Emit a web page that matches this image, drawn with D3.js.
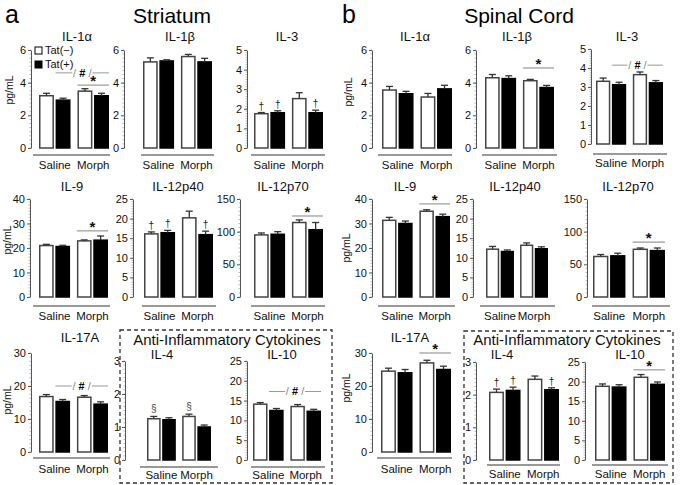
<!DOCTYPE html>
<html><head><meta charset="utf-8">
<script src="https://cdn.jsdelivr.net/npm/d3@7"></script>
<style>body{margin:0;background:#fff} svg{display:block;font-family:"Liberation Sans",Arial,sans-serif}</style>
</head><body><svg id="c" width="685" height="485"></svg>
<script>
// ---------------- DATA ----------------
const categories = ["Saline", "Morph"];
const series = ["Tat(−)", "Tat(+)"];
// order of values: Saline/Tat(−), Saline/Tat(+), Morph/Tat(−), Morph/Tat(+)
const strIL1a = [3.2, 2.93, 3.48, 3.2],      strIL1aErr = [0.15, 0.12, 0.15, 0.15];
const strIL1b = [5.27, 5.33, 5.6, 5.27],     strIL1bErr = [0.25, 0.07, 0.13, 0.22];
const strIL3 = [1.75, 1.8, 2.52, 1.8],       strIL3Err = [0.06, 0.1, 0.3, 0.13];
const strIL9 = [21.0, 20.6, 22.9, 23.2],     strIL9Err = [0.5, 0.5, 0.4, 1.7];
const strIL12p40 = [16.1, 16.4, 20.2, 15.9], strIL12p40Err = [0.5, 0.6, 1.7, 0.9];
const strIL12p70 = [95, 96, 114, 103],       strIL12p70Err = [3, 4, 4, 11];
const strIL17A = [16.8, 15.3, 16.6, 14.5],   strIL17AErr = [0.6, 0.6, 0.5, 0.7];
const strIL4 = [1.25, 1.22, 1.32, 1.0],      strIL4Err = [0.07, 0.06, 0.07, 0.06];
const strIL10 = [14.1, 12.5, 13.5, 12.3],    strIL10Err = [0.4, 0.5, 0.5, 0.5];

const spIL1a = [3.55, 3.32, 3.12, 3.62],     spIL1aErr = [0.22, 0.15, 0.22, 0.22];
const spIL1b = [4.3, 4.25, 4.12, 3.7],       spIL1bErr = [0.2, 0.17, 0.08, 0.13];
const spIL3 = [3.3, 3.12, 3.65, 3.22],       spIL3Err = [0.17, 0.13, 0.14, 0.12];
const spIL9 = [31.3, 30.0, 35.0, 32.8],      spIL9Err = [1.2, 1.0, 0.6, 1.0];
const spIL12p40 = [12.2, 11.6, 13.2, 12.3],  spIL12p40Err = [0.7, 0.4, 0.6, 0.5];
const spIL12p70 = [62, 63, 73, 71],          spIL12p70Err = [3, 4, 2, 4];
const spIL17A = [24.5, 24.0, 27.0, 25.0],    spIL17AErr = [0.9, 1.0, 0.8, 1.0];
const spIL4 = [2.07, 2.13, 2.47, 2.15],      spIL4Err = [0.1, 0.1, 0.1, 0.06];
const spIL10 = [18.8, 18.6, 21.1, 19.3],     spIL10Err = [0.6, 0.6, 0.7, 0.6];

// axis maxima / tick steps
const maxima = {IL1: 6, IL3: 5, IL9: 40, IL12p40: 25, IL12p70: 150, IL17A: 30, IL4: 3, IL10: 25};
const steps  = {IL1: 2, IL3: 1, IL9: 10, IL12p40: 5, IL12p70: 50, IL17A: 10, IL4: 1, IL10: 5};

// significance marks (values in data units)
const hashMarks = {sIL1a: 4.6, sIL17A: 20, sIL10: 17.3, pIL3: 4.15};
const starMarks = {sIL1a: 3.85, sIL9: 27, sIL12p70: 124, pIL1b: 4.9, pIL9: 38, pIL12p70: 84, pIL17A: 30, pIL10: 23};
const daggerMarks = {sIL3: [0, 1, 3], sIL12p40: [0, 1, 3], pIL4: [0, 1, 3]};
const sectionMarks = {sIL4: [0, 2]};

// ---------------- LAYOUT ----------------
const R1 = {yTop: 50, yBot: 148, lineY: 155, labelY: 169, titleY: 41};
const R2 = {yTop: 199, yBot: 297, lineY: 306, labelY: 320, titleY: 191};
const R3 = {yTop: 353, yBot: 452, lineY: 458, labelY: 473, titleY: 342};
const R3b = {yTop: 361, yBot: 460, lineY: 467, labelY: 479, titleY: 359};

const panels = [
  {key: "sIL1a", title: "IL-1α", m: strIL1a, e: strIL1aErr, ax: "IL1", axisX: 31, b0: 39, b1: 109, l0: 33, l1: 110, tx: 77, row: R1, ylab: [13, 90], legend: true},
  {key: "sIL1b", title: "IL-1β", m: strIL1b, e: strIL1bErr, ax: "IL1", axisX: 124, b0: 143, b1: 212, l0: 141, l1: 214, tx: 180, row: R1},
  {key: "sIL3", title: "IL-3", m: strIL3, e: strIL3Err, ax: "IL3", axisX: 247, b0: 254, b1: 323, l0: 251, l1: 325, tx: 287, row: R1},
  {key: "sIL9", title: "IL-9", m: strIL9, e: strIL9Err, ax: "IL9", axisX: 30, b0: 39, b1: 108, l0: 33, l1: 110, tx: 72, row: R2, ylab: [11, 240]},
  {key: "sIL12p40", title: "IL-12p40", m: strIL12p40, e: strIL12p40Err, ax: "IL12p40", axisX: 133, b0: 144, b1: 213, l0: 142, l1: 216, tx: 178, row: R2},
  {key: "sIL12p70", title: "IL-12p70", m: strIL12p70, e: strIL12p70Err, ax: "IL12p70", axisX: 240, b0: 254, b1: 323, l0: 251, l1: 325, tx: 283, row: R2},
  {key: "sIL17A", title: "IL-17A", m: strIL17A, e: strIL17AErr, ax: "IL17A", axisX: 31, b0: 39, b1: 108, l0: 33, l1: 110, tx: 80, row: R3, ylab: [11, 400]},
  {key: "sIL4", title: "IL-4", m: strIL4, e: strIL4Err, ax: "IL4", axisX: 125, b0: 147, b1: 211, l0: 140, l1: 218, tx: 162, row: R3b},
  {key: "sIL10", title: "IL-10", m: strIL10, e: strIL10Err, ax: "IL10", axisX: 247, b0: 253, b1: 321, l0: 251, l1: 325, tx: 282, row: R3b},

  {key: "pIL1a", title: "IL-1α", m: spIL1a, e: spIL1aErr, ax: "IL1", axisX: 372, b0: 382, b1: 452, l0: 378, l1: 452, tx: 415, row: R1, ylab: [352, 92]},
  {key: "pIL1b", title: "IL-1β", m: spIL1b, e: spIL1bErr, ax: "IL1", axisX: 476, b0: 485, b1: 554, l0: 482, l1: 557, tx: 517, row: R1},
  {key: "pIL3", title: "IL-3", m: spIL3, e: spIL3Err, ax: "IL3", axisX: 591, b0: 596, b1: 663, l0: 593, l1: 667, tx: 627, row: {yTop: 49, yBot: 144, lineY: 154, labelY: 167, titleY: 41}},
  {key: "pIL9", title: "IL-9", m: spIL9, e: spIL9Err, ax: "IL9", axisX: 372, b0: 382, b1: 450, l0: 378, l1: 455, tx: 405, row: R2, ylab: [350, 248]},
  {key: "pIL12p40", title: "IL-12p40", m: spIL12p40, e: spIL12p40Err, ax: "IL12p40", axisX: 473, b0: 486, b1: 548, l0: 480, l1: 555, tx: 515, row: R2},
  {key: "pIL12p70", title: "IL-12p70", m: spIL12p70, e: spIL12p70Err, ax: "IL12p70", axisX: 587, b0: 593, b1: 665, l0: 592, l1: 670, tx: 628, row: R2},
  {key: "pIL17A", title: "IL-17A", m: spIL17A, e: spIL17AErr, ax: "IL17A", axisX: 372, b0: 381, b1: 451, l0: 377, l1: 452, tx: 410, row: R3, ylab: [350, 388]},
  {key: "pIL4", title: "IL-4", m: spIL4, e: spIL4Err, ax: "IL4", axisX: 476, b0: 489, b1: 559, l0: 487, l1: 560, tx: 502, row: {yTop: 362, yBot: 460, lineY: 465, labelY: 478, titleY: 359}},
  {key: "pIL10", title: "IL-10", m: spIL10, e: spIL10Err, ax: "IL10", axisX: 585, b0: 595, b1: 665, l0: 592, l1: 668, tx: 630, row: {yTop: 362, yBot: 460, lineY: 465, labelY: 478, titleY: 359}},
];

const svg = d3.select("#c");
const groups = [];
categories.forEach(c => series.forEach(s => groups.push({c, s})));

panels.forEach(p => {
  const r = p.row;
  const max = maxima[p.ax], step = steps[p.ax];
  const y = d3.scaleLinear().domain([0, max]).range([r.yBot, r.yTop]);
  const x0 = d3.scaleBand().domain(categories).range([p.b0, p.b1]).paddingInner(0.18);
  const x1 = d3.scaleBand().domain(series).range([0, x0.bandwidth()]).paddingInner(0.1);
  const g = svg.append("g");
  const bx = i => x0(groups[i].c) + x1(groups[i].s);
  const bw = x1.bandwidth();

  // y axis
  const ticks = d3.range(0, max + step / 2, step);
  const ax = g.append("g").attr("transform", `translate(${p.axisX},0)`)
    .call(d3.axisLeft(y).tickValues(ticks).tickFormat(d3.format("d")).tickSize(3).tickSizeOuter(0).tickPadding(2));
  ax.select(".domain").attr("stroke", "#555").attr("stroke-width", 1);
  ax.selectAll(".tick line").attr("stroke", "#555");
  ax.selectAll(".tick text").attr("font-size", 11).attr("fill", "#111").attr("font-family", "Liberation Sans, Arial, sans-serif");
  // minor ticks
  const minor = d3.range(0, max + 1e-9, step / 8);
  g.append("g").selectAll("line").data(minor).join("line")
    .attr("x1", p.axisX - 1.5).attr("x2", p.axisX).attr("y1", d => y(d)).attr("y2", d => y(d))
    .attr("stroke", "#888").attr("stroke-width", 0.6);

  // bars
  g.append("g").selectAll("rect").data(p.m).join("rect")
    .attr("x", (d, i) => bx(i) + 0.75).attr("width", bw - 1.5)
    .attr("y", d => y(d)).attr("height", d => y(0) - y(d))
    .attr("fill", (d, i) => i % 2 ? "#000" : "#fff")
    .attr("stroke", (d, i) => i % 2 ? "#000" : "#444").attr("stroke-width", 1.5);
  // error bars
  const eb = g.append("g").attr("stroke", "#333").attr("stroke-width", 1.3);
  p.m.forEach((d, i) => {
    const cx = bx(i) + bw / 2, yt = y(d + p.e[i]);
    eb.append("line").attr("x1", cx).attr("x2", cx).attr("y1", y(d)).attr("y2", yt);
    eb.append("line").attr("x1", cx - 3.5).attr("x2", cx + 3.5).attr("y1", yt).attr("y2", yt);
  });

  // category baseline and labels
  g.append("line").attr("x1", p.l0).attr("x2", p.l1).attr("y1", r.lineY).attr("y2", r.lineY)
    .attr("stroke", "#777").attr("stroke-width", 1.4);
  categories.forEach(c => {
    g.append("text").attr("x", x0(c) + x0.bandwidth() / 2).attr("y", r.labelY)
      .attr("text-anchor", "middle").attr("font-size", 11.5).attr("fill", "#111").text(c);
  });

  // title
  g.append("text").attr("x", p.tx).attr("y", r.titleY).attr("text-anchor", "middle")
    .attr("font-size", 13).attr("fill", "#111").text(p.title);

  // y label
  if (p.ylab) {
    g.append("text").attr("transform", `translate(${p.ylab[0]},${p.ylab[1]}) rotate(-90)`)
      .attr("text-anchor", "middle").attr("font-size", 10.5).attr("fill", "#111").text("pg/mL");
  }

  // legend
  if (p.legend) {
    series.forEach((s, i) => {
      const ly = 47 + i * 14;
      g.append("rect").attr("x", 35).attr("y", ly).attr("width", 7).attr("height", 7)
        .attr("fill", i ? "#000" : "#fff").attr("stroke", "#000").attr("stroke-width", 1);
      g.append("text").attr("x", 45).attr("y", ly + 7).attr("font-size", 11).attr("fill", "#111").text(s);
    });
  }

  // significance
  if (hashMarks[p.key] !== undefined) {
    const hy = y(hashMarks[p.key]);
    const xa = bx(1), xb = bx(3) + bw, cx = (xa + xb) / 2;
    g.append("line").attr("x1", xa).attr("x2", cx - 10).attr("y1", hy).attr("y2", hy).attr("stroke", "#999").attr("stroke-width", 1);
    g.append("line").attr("x1", cx + 10).attr("x2", xb).attr("y1", hy).attr("y2", hy).attr("stroke", "#999").attr("stroke-width", 1);
    const t = g.append("text").attr("x", cx).attr("y", hy + 4).attr("text-anchor", "middle").attr("font-size", 11);
    t.append("tspan").attr("fill", "#888").text("/ ");
    t.append("tspan").attr("fill", "#000").attr("font-weight", "bold").text("#");
    t.append("tspan").attr("fill", "#888").text(" /");
  }
  if (starMarks[p.key] !== undefined) {
    const sy = y(starMarks[p.key]);
    const xa = bx(2), xb = bx(3) + bw;
    g.append("line").attr("x1", xa).attr("x2", xb).attr("y1", sy).attr("y2", sy).attr("stroke", "#999").attr("stroke-width", 1.2);
    g.append("text").attr("x", (xa + xb) / 2).attr("y", sy + 1).attr("text-anchor", "middle")
      .attr("font-size", 15).attr("font-weight", "bold").attr("fill", "#111").text("*");
  }
  if (daggerMarks[p.key]) {
    daggerMarks[p.key].forEach(i => {
      g.append("text").attr("x", bx(i) + bw / 2).attr("y", y(p.m[i] + p.e[i]) - 3)
        .attr("text-anchor", "middle").attr("font-size", 10).attr("fill", "#222").text("†");
    });
  }
  if (sectionMarks[p.key]) {
    sectionMarks[p.key].forEach(i => {
      g.append("text").attr("x", bx(i) + bw / 2).attr("y", y(p.m[i] + p.e[i]) - 4)
        .attr("text-anchor", "middle").attr("font-size", 10).attr("fill", "#444").text("§");
    });
  }
});

// dashed boxes
const boxes = [
  {x: 120, y: 330, w: 212, h: 153, tx: 227},
  {x: 464, y: 331, w: 209, h: 152, tx: 567},
];
boxes.forEach(b => {
  svg.append("rect").attr("x", b.x).attr("y", b.y).attr("width", b.w).attr("height", b.h)
    .attr("fill", "none").attr("stroke", "#333").attr("stroke-width", 1.3).attr("stroke-dasharray", "4,3");
  svg.append("text").attr("x", b.tx).attr("y", 345).attr("text-anchor", "middle")
    .attr("font-size", 15).attr("fill", "#111").text("Anti-Inflammatory Cytokines");
});

// headers
svg.append("text").attr("x", 5).attr("y", 23).attr("font-size", 25).attr("fill", "#000").text("a");
svg.append("text").attr("x", 172).attr("y", 23).attr("text-anchor", "middle").attr("font-size", 21).attr("fill", "#000").text("Striatum");
svg.append("text").attr("x", 342).attr("y", 23).attr("font-size", 25).attr("fill", "#000").text("b");
svg.append("text").attr("x", 519).attr("y", 23).attr("text-anchor", "middle").attr("font-size", 21).attr("fill", "#000").text("Spinal Cord");
</script>
</body></html>
